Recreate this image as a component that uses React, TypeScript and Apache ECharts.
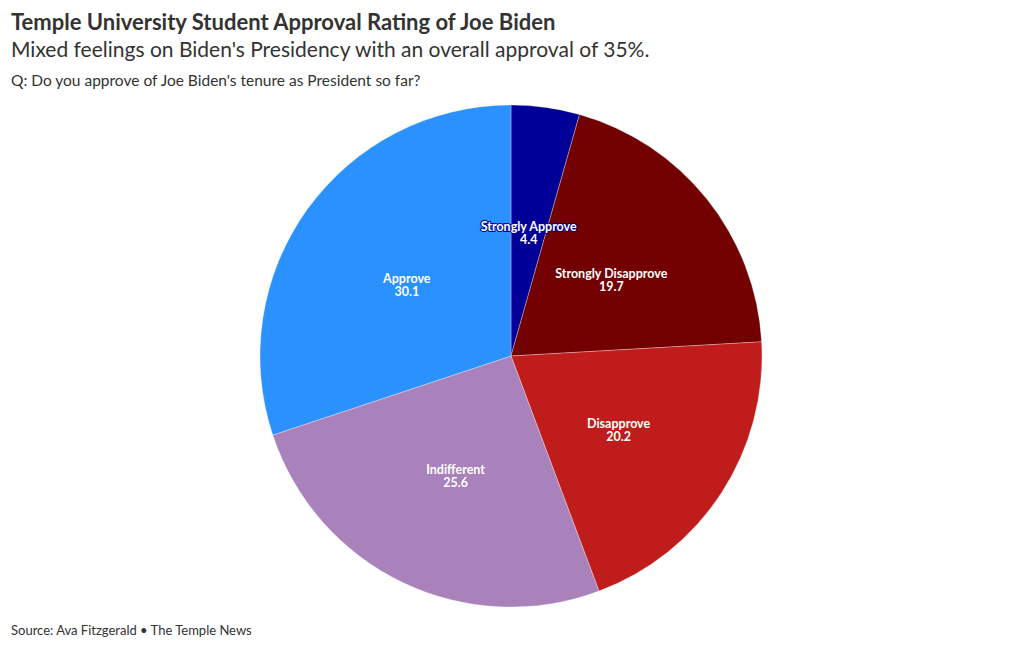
import React, { useEffect, useRef } from "react";
import * as echarts from "echarts";

const categories = ["Strongly Approve", "Strongly Disapprove", "Disapprove", "Indifferent", "Approve"];
const values = [4.4, 19.7, 20.2, 25.6, 30.1];
const colors = ["#000099", "#730000", "#c11c1c", "#a981bb", "#2a91ff"];

const FONT = "Lato";

export default function App() {
  const ref = useRef<HTMLDivElement>(null);
  useEffect(() => {
    document.body.style.margin = "0";
    const chart = echarts.init(ref.current!, null, { renderer: "svg" });
    chart.setOption({
      animation: false,
      backgroundColor: "#ffffff",
      graphic: [
        { type: "text", left: 11, top: 10, style: { text: "Temple University Student Approval Rating of Joe Biden", font: `bold 22px ${FONT}`, fill: "#333333" } },
        { type: "text", left: 11, top: 38, style: { text: "Mixed feelings on Biden's Presidency with an overall approval of 35%.", font: `21px ${FONT}`, fill: "#333333" } },
        { type: "text", left: 11, top: 72, style: { text: "Q: Do you approve of Joe Biden's tenure as President so far?", font: `15.5px ${FONT}`, fill: "#333333" } },
        { type: "text", left: 11, top: 623, style: { text: "Source: Ava Fitzgerald \u2022 The Temple News", font: `13px ${FONT}`, fill: "#333333" } },
      ],
      series: [
        {
          type: "pie",
          center: [511, 356],
          radius: [0, 251],
          startAngle: 90,
          clockwise: true,
          silent: true,
          itemStyle: { borderColor: "rgba(255,255,255,0.5)", borderWidth: 0.6 },
          label: {
            show: true,
            position: "inside",
            formatter: "{b}\n{c}",
            color: "#ffffff",
            fontFamily: FONT,
            fontWeight: "bold",
            fontSize: 12.5,
            lineHeight: 13,
            textBorderWidth: 2,
            offset: [0, 4],
          },
          labelLine: { show: false },
          data: categories.map((c, i) => ({
            name: c,
            value: values[i],
            itemStyle: { color: colors[i] },
            label: { textBorderColor: colors[i] },
          })),
        },
      ],
    });
    return () => chart.dispose();
  }, []);
  return <div ref={ref} style={{ width: 1020, height: 650 }} />;
}
